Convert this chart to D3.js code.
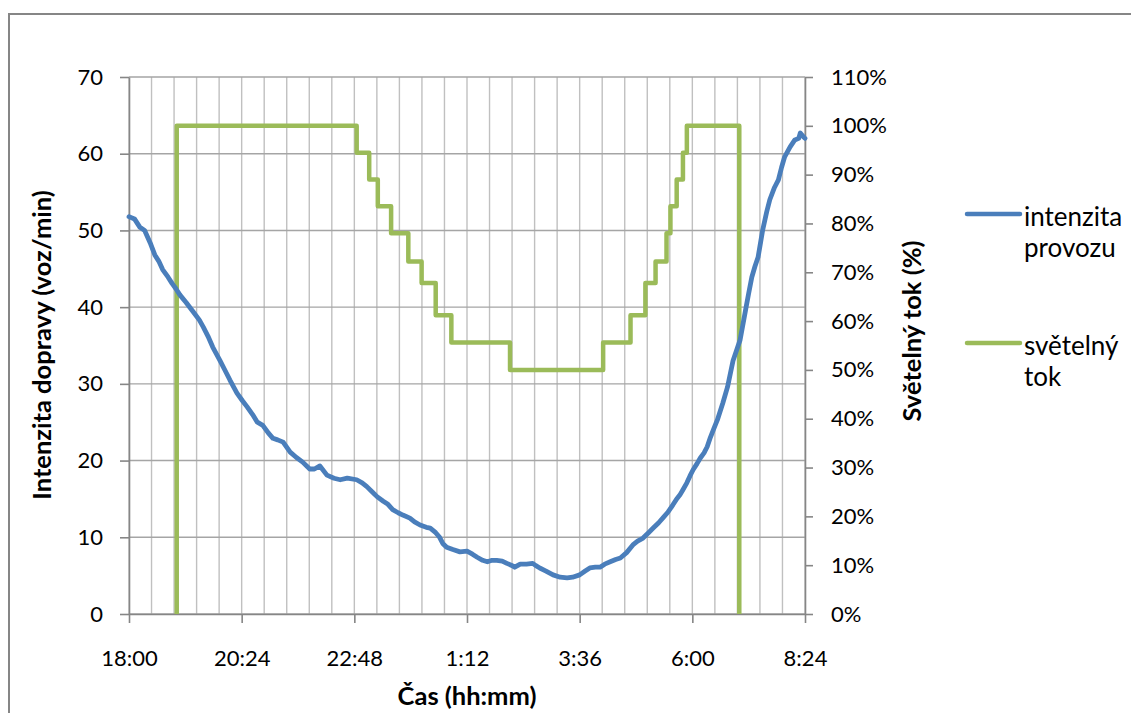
<!DOCTYPE html>
<html>
<head>
<meta charset="utf-8">
<script src="https://cdn.jsdelivr.net/npm/d3@7"></script>
<style>
  html, body { margin: 0; padding: 0; background: #fff; }
  svg { display: block; font-family: Lato, "Noto Sans", sans-serif; }
</style>
</head>
<body>
<svg id="chart" width="1131" height="713"></svg>
<script>
// Time is counted in minutes after 18:00.
const trafficMinutes = [0, 7, 14, 20, 27, 33, 38, 43, 50, 55, 60, 65, 73, 82, 90, 95, 101, 107, 116, 122,
  129, 138, 145, 151, 158, 164, 171, 178, 184, 190, 197, 206, 214, 222, 231, 237, 244, 253, 262, 270,
  279, 291, 298, 304, 311, 317, 325, 331, 337, 344, 350, 359, 365, 372, 380, 385, 392, 397, 401, 406,
  414, 423, 432, 439, 445, 452, 458, 464, 470, 477, 483, 490, 493, 500, 508, 516, 520, 525, 533, 542,
  551, 560, 567, 576, 583, 589, 596, 602, 608, 615, 622, 628, 636, 644, 650, 657, 664, 670, 677, 683,
  689, 695, 700, 704, 708, 713, 717, 721, 726, 730, 735, 739, 743, 748, 752, 759, 765, 772, 777, 781,
  788, 792, 796, 800, 804, 810, 815, 819, 825, 830, 834, 838, 845, 851, 856, 858, 862, 864];
const trafficValues = [51.8, 51.5, 50.4, 50.0, 48.4, 46.8, 46.0, 44.9, 43.9, 43.1, 42.4, 41.6, 40.6, 39.4, 38.3, 37.4, 36.2, 34.8, 33.1, 31.9,
  30.5, 28.8, 27.8, 27.0, 26.0, 25.0, 24.6, 23.6, 22.9, 22.7, 22.4, 21.1, 20.4, 19.8, 18.9, 18.9, 19.3, 18.1, 17.7, 17.5,
  17.7, 17.5, 17.1, 16.6, 15.9, 15.3, 14.7, 14.3, 13.6, 13.2, 12.9, 12.5, 12.0, 11.6, 11.3, 11.2, 10.6, 10.0, 9.2, 8.7,
  8.4, 8.1, 8.2, 7.8, 7.4, 7.0, 6.8, 7.0, 7.0, 6.9, 6.6, 6.3, 6.1, 6.5, 6.5, 6.6, 6.3, 6.0, 5.6, 5.1,
  4.8, 4.7, 4.8, 5.1, 5.6, 6.0, 6.1, 6.1, 6.5, 6.8, 7.1, 7.3, 8.0, 9.0, 9.5, 9.9, 10.6, 11.2, 11.9, 12.6,
  13.3, 14.2, 15.0, 15.5, 16.2, 17.1, 18.0, 18.8, 19.6, 20.3, 21.0, 21.8, 23.0, 24.3, 25.3, 27.5, 29.6, 33.0, 34.5, 35.7,
  39.6, 41.8, 43.9, 45.3, 46.5, 50.1, 52.4, 54.0, 55.6, 56.6, 58.2, 59.6, 60.9, 61.8, 62.0, 62.7, 62.2, 62.0];

// Luminous flux of the lamps (share of full output), a step schedule.
const fluxMinutes = [61, 61, 291, 307, 318, 335, 357, 374, 392, 412, 487, 606, 641, 660, 673, 687, 692, 700, 708, 713, 780];
const fluxLevels  = [0, 1.00, 0.945, 0.89, 0.835, 0.78, 0.722, 0.678, 0.612, 0.556, 0.50, 0.556, 0.612, 0.678, 0.722, 0.78, 0.835, 0.89, 0.945, 1.00, 0];

const xTickMinutes = [0, 144, 288, 432, 576, 720, 864];
const xTickLabels = ["18:00", "20:24", "22:48", "1:12", "3:36", "6:00", "8:24"];
const xGridStep = 28.8;
const leftTicks = [0, 10, 20, 30, 40, 50, 60, 70];
const rightTicks = [0, 0.1, 0.2, 0.3, 0.4, 0.5, 0.6, 0.7, 0.8, 0.9, 1.0, 1.1];
const rightTickLabels = ["0%", "10%", "20%", "30%", "40%", "50%", "60%", "70%", "80%", "90%", "100%", "110%"];

const seriesNames = [["intenzita", "provozu"], ["světelný", "tok"]];
const seriesColors = ["#4A7EBB", "#9BBB59"];

const svg = d3.select("#chart");
const plot = { left: 129, right: 805, top: 77, bottom: 614 };
const axisColor = "#868686";
const tickFont = 22;
const titleFont = 25.5;
const legendFont = 26;

const x = d3.scaleLinear().domain([0, 864]).range([plot.left, plot.right]);
const yL = d3.scaleLinear().domain([0, 70]).range([plot.bottom, plot.top]);
const yR = d3.scaleLinear().domain([0, 1.1]).range([plot.bottom, plot.top]);

// outer chart frame (right and bottom edges fall outside the canvas)
svg.append("rect").attr("x", 9).attr("y", 14).attr("width", 1140).attr("height", 720)
  .attr("fill", "#fff").attr("stroke", axisColor).attr("stroke-width", 2);

// vertical gridlines
const gridX = d3.range(0, 864 + 1, xGridStep);
svg.append("g").selectAll("line").data(gridX).join("line")
  .attr("x1", d => x(d)).attr("x2", d => x(d))
  .attr("y1", plot.top).attr("y2", plot.bottom)
  .attr("stroke", "#c0c0c0").attr("stroke-width", 1.4);

// horizontal gridlines
svg.append("g").selectAll("line").data(leftTicks).join("line")
  .attr("x1", plot.left).attr("x2", plot.right)
  .attr("y1", d => yL(d)).attr("y2", d => yL(d))
  .attr("stroke", "#a5a5a5").attr("stroke-width", 1.4);

// axes
function styleAxis(g) {
  g.select(".domain").attr("stroke", axisColor).attr("stroke-width", 1.6);
  g.selectAll(".tick line").attr("stroke", axisColor).attr("stroke-width", 1.6);
  g.selectAll("text").attr("fill", "#000").style("font-size", tickFont + "px")
    .style("font-family", "Lato, 'Noto Sans', sans-serif");
}

svg.append("g").attr("transform", `translate(${plot.left},0)`)
  .call(d3.axisLeft(yL).tickValues(leftTicks).tickSize(9).tickSizeOuter(0).tickPadding(17))
  .call(styleAxis);

svg.append("g").attr("transform", `translate(${plot.right},0)`)
  .call(d3.axisRight(yR).tickValues(rightTicks).tickSize(8).tickSizeOuter(0).tickPadding(18)
    .tickFormat((d, i) => rightTickLabels[i]))
  .call(styleAxis);

svg.append("g").attr("transform", `translate(0,${plot.bottom})`)
  .call(d3.axisBottom(x).tickValues(xTickMinutes).tickSize(9).tickSizeOuter(0).tickPadding(27)
    .tickFormat((d, i) => xTickLabels[i]))
  .call(styleAxis);

// series
const trafficLine = d3.line()
  .x((d, i) => x(trafficMinutes[i]))
  .y(d => yL(d))
  .curve(d3.curveLinear);

const fluxLine = d3.line()
  .x((d, i) => x(fluxMinutes[i]))
  .y(d => yR(d))
  .curve(d3.curveStepAfter);

svg.append("path").datum(fluxLevels).attr("d", fluxLine)
  .attr("fill", "none").attr("stroke", seriesColors[1]).attr("stroke-width", 4.5)
  .attr("stroke-linejoin", "round");

svg.append("path").datum(trafficValues).attr("d", trafficLine)
  .attr("fill", "none").attr("stroke", seriesColors[0]).attr("stroke-width", 4.8)
  .attr("stroke-linejoin", "round").attr("stroke-linecap", "round");

// axis titles
svg.append("text").attr("transform", "translate(41,345) rotate(-90)")
  .attr("text-anchor", "middle").attr("dominant-baseline", "central")
  .style("font-weight", "bold").style("font-size", titleFont + "px")
  .text("Intenzita dopravy (voz/min)");

svg.append("text").attr("transform", "translate(911,331) rotate(-90)")
  .attr("text-anchor", "middle").attr("dominant-baseline", "central")
  .style("font-weight", "bold").style("font-size", titleFont + "px")
  .text("Světelný tok (%)");

svg.append("text").attr("x", (plot.left + plot.right) / 2).attr("y", 695)
  .attr("text-anchor", "middle").attr("dominant-baseline", "central")
  .style("font-weight", "bold").style("font-size", titleFont + "px")
  .text("Čas (hh:mm)");

// legend
const legendY = [214, 343];
const legend = svg.append("g");
seriesNames.forEach((lines, i) => {
  legend.append("line").attr("x1", 967).attr("x2", 1020)
    .attr("y1", legendY[i]).attr("y2", legendY[i])
    .attr("stroke", seriesColors[i]).attr("stroke-width", 4.5).attr("stroke-linecap", "round");
  lines.forEach((t, j) => {
    legend.append("text").attr("x", 1024).attr("y", legendY[i] + 2 + j * 31)
      .attr("dominant-baseline", "central").style("font-size", legendFont + "px")
      .text(t);
  });
});
</script>
</body>
</html>
